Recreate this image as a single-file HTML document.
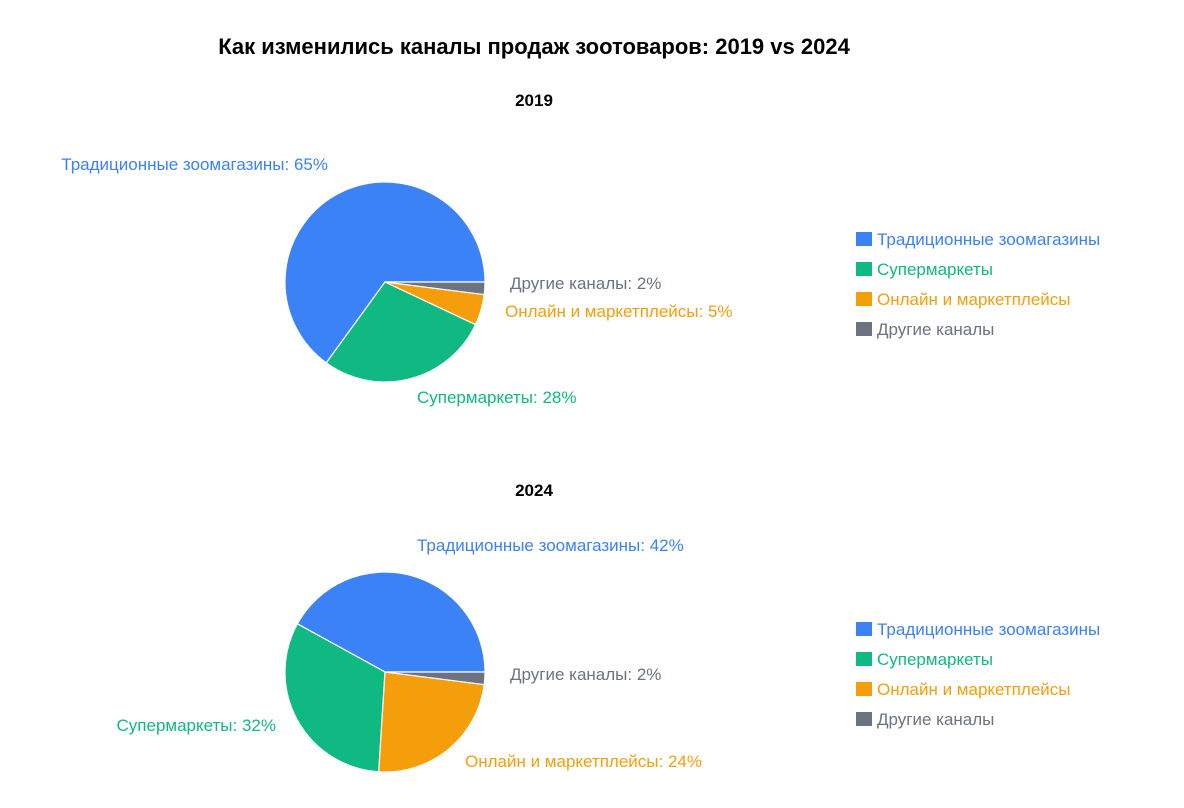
<!DOCTYPE html>
<html><head><meta charset="utf-8">
<style>
html,body{margin:0;padding:0;background:#fff;}
svg{display:block;font-family:"Liberation Sans","DejaVu Sans",sans-serif;}
</style></head>
<body>
<svg id="chart" width="1184" height="808" viewBox="0 0 1184 808">
<text x="534" y="54" text-anchor="middle" font-size="22" font-weight="bold" fill="#000">Как изменились каналы продаж зоотоваров: 2019 vs 2024</text>
</svg>
<script>
const categories = ["Традиционные зоомагазины","Супермаркеты","Онлайн и маркетплейсы","Другие каналы"];
const years = ["2019","2024"];
const values2019 = [65,28,5,2];
const values2024 = [42,32,24,2];
const colors = ["#3b82f6","#10b981","#f59e0b","#6b7280"];
const NS="http://www.w3.org/2000/svg";
const svg=document.getElementById('chart');
function mk(tag,attrs,parent){const e=document.createElementNS(NS,tag);for(const k in attrs)e.setAttribute(k,attrs[k]);(parent||svg).appendChild(e);return e;}
// label layout (pixel positions per slice)
const labelLayout=[
 [[328,170,"end"],[417,403,"start"],[505,317,"start"],[510,289,"start"]],
 [[417,551,"start"],[276,731,"end"],[465,767,"start"],[510,680,"start"]]
];
const panels=[{vals:values2019,cy:282,ty:106,ly:239},{vals:values2024,cy:672,ty:496,ly:629}];
panels.forEach((p,pi)=>{
  const g=mk('g',{});
  
  
  const t=mk('text',{x:534,y:p.ty,'text-anchor':'middle','font-size':17,'font-weight':'bold',fill:'#000'},g);
  t.textContent=years[pi];
  
  
  const cx=385,cy=p.cy,r=100;
  const total=p.vals.reduce((a,b)=>a+b,0);
  let acc=0;
  p.vals.forEach((v,i)=>{
    const a0=acc/total*2*Math.PI; acc+=v; const a1=acc/total*2*Math.PI;
    const x0=cx+r*Math.cos(a0),y0=cy-r*Math.sin(a0),x1=cx+r*Math.cos(a1),y1=cy-r*Math.sin(a1);
    const large=(a1-a0)>Math.PI?1:0;
    const path=mk('path',{d:`M${cx},${cy}L${x0},${y0}A${r},${r} 0 ${large} 0 ${x1},${y1}Z`,fill:colors[i],stroke:'#fff','stroke-width':1.2},g);
    
    
    const L=labelLayout[pi][i];
    const lt=mk('text',{x:L[0],y:L[1],'text-anchor':L[2],'font-size':17,fill:colors[i]},g);
    lt.textContent=categories[i]+': '+v+'%';
    
    
  });
  categories.forEach((c,i)=>{
    const y=p.ly+i*30;
    const lg=mk('g',{},g);
    
    
    mk('rect',{x:856,y:y-7,width:16,height:14,fill:colors[i]},lg);
    const tx=mk('text',{x:877,y:y+6,'font-size':17,fill:colors[i]},lg);
    tx.textContent=c;
  });
});
</script>
</body></html>
